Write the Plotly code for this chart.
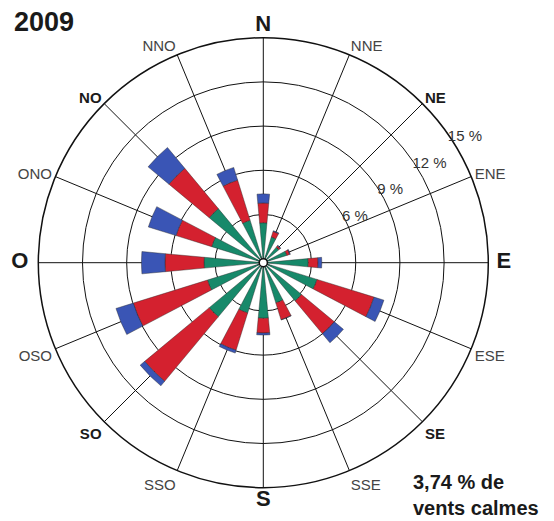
import plotly.graph_objects as go

directions = ["N", "NNE", "NE", "ENE", "E", "ESE", "SE", "SSE",
              "S", "SSO", "SO", "OSO", "O", "ONO", "NO", "NNO"]
bearings = [0, 22.5, 45, 67.5, 90, 112.5, 135, 157.5,
            180, 202.5, 225, 247.5, 270, 292.5, 315, 337.5]

# percentage of time per direction, by wind-speed class (stacked)
green = [2.44, 1.55, 1.10, 1.40, 2.78, 3.55, 3.10, 2.58,
         3.50, 3.30, 4.50, 3.70, 3.75, 3.40, 4.50, 2.75]
red = [1.34, 0.40, 0.12, 0.20, 0.66, 4.05, 2.90, 1.20,
       1.00, 2.65, 5.70, 5.27, 2.65, 2.53, 3.56, 2.85]
blue = [0.62, 0.05, 0.05, 0.05, 0.26, 0.70, 0.80, 0.02,
        0.14, 0.20, 0.40, 1.23, 1.60, 1.97, 1.84, 0.90]

radial_ticks = [3, 6, 9, 12, 15]
radial_ticktext = ["", "6 %", "9 %", "12 %", "15 %"]

year_label = "2009"
calm_label = "3,74 % de<br>vents calmes"

major = {"N", "E", "S", "O"}
semi = {"NE", "SE", "SO", "NO"}


def fmt(d):
    if d in major:
        pad_l = "&#8201;" if d == "E" else ""
        pad_r = "&nbsp;" if d == "O" else ""
        return (f"<b><span style='font-size:22px;color:#1a1a1a'>"
                f"{pad_l}{d}{pad_r}</span></b>")
    if d in semi:
        return f"<b><span style='color:#1a1a1a'>{d}</span></b>"
    return d


ticktext = [fmt(d) for d in directions]

fig = go.Figure()
outline = dict(color="rgba(40,40,40,0.7)", width=0.6)
for vals, col, name in [(green, "#17896a", "faible"),
                        (red, "#d4212f", "moyen"),
                        (blue, "#3a55b5", "fort")]:
    fig.add_trace(go.Barpolar(r=vals, theta=bearings, width=10.5,
                              marker=dict(color=col, line=outline),
                              name=name, showlegend=False))

W, H = 554, 521
cx, cy, R = 263.3, 262.7, 225
fig.update_layout(
    width=W, height=H,
    margin=dict(l=0, r=0, t=0, b=0),
    paper_bgcolor="white",
    font=dict(family="Liberation Sans, Arial, sans-serif"),
    barmode="stack",
    polar=dict(
        domain=dict(x=[(cx - R) / W, (cx + R) / W],
                    y=[(H - cy - R) / H, (H - cy + R) / H]),
        bgcolor="white",
        hole=0.018,
        radialaxis=dict(range=[0, 15], tickvals=radial_ticks,
                        ticktext=radial_ticktext, angle=37, tickangle=37,
                        side="clockwise",
                        showline=False, ticks="",
                        gridcolor="#111", gridwidth=1.3,
                        tickfont=dict(size=15, color="#333")),
        angularaxis=dict(direction="clockwise", rotation=90,
                         tickvals=bearings, ticktext=ticktext,
                         ticks="", showline=True, linecolor="#111",
                         linewidth=1.5, gridcolor="#111", gridwidth=1.3,
                         tickfont=dict(size=15, color="#444")),
    ),
    annotations=[
        dict(text=f"<b>{year_label}</b>", x=12 / W, y=1 - 22.5 / H,
             xref="paper", yref="paper", xanchor="left", yanchor="middle",
             showarrow=False, font=dict(size=27, color="#1a1a1a")),
        dict(text=f"<b>{calm_label}</b>", x=411 / W, y=1 - 494.5 / H,
             xref="paper", yref="paper", xanchor="left", yanchor="middle",
             align="left", showarrow=False,
             font=dict(size=20, color="#1a1a1a")),
    ],
)

fig.write_html("out.html",
               config={"displayModeBar": False},
               post_script="document.body.style.margin='0px';")
